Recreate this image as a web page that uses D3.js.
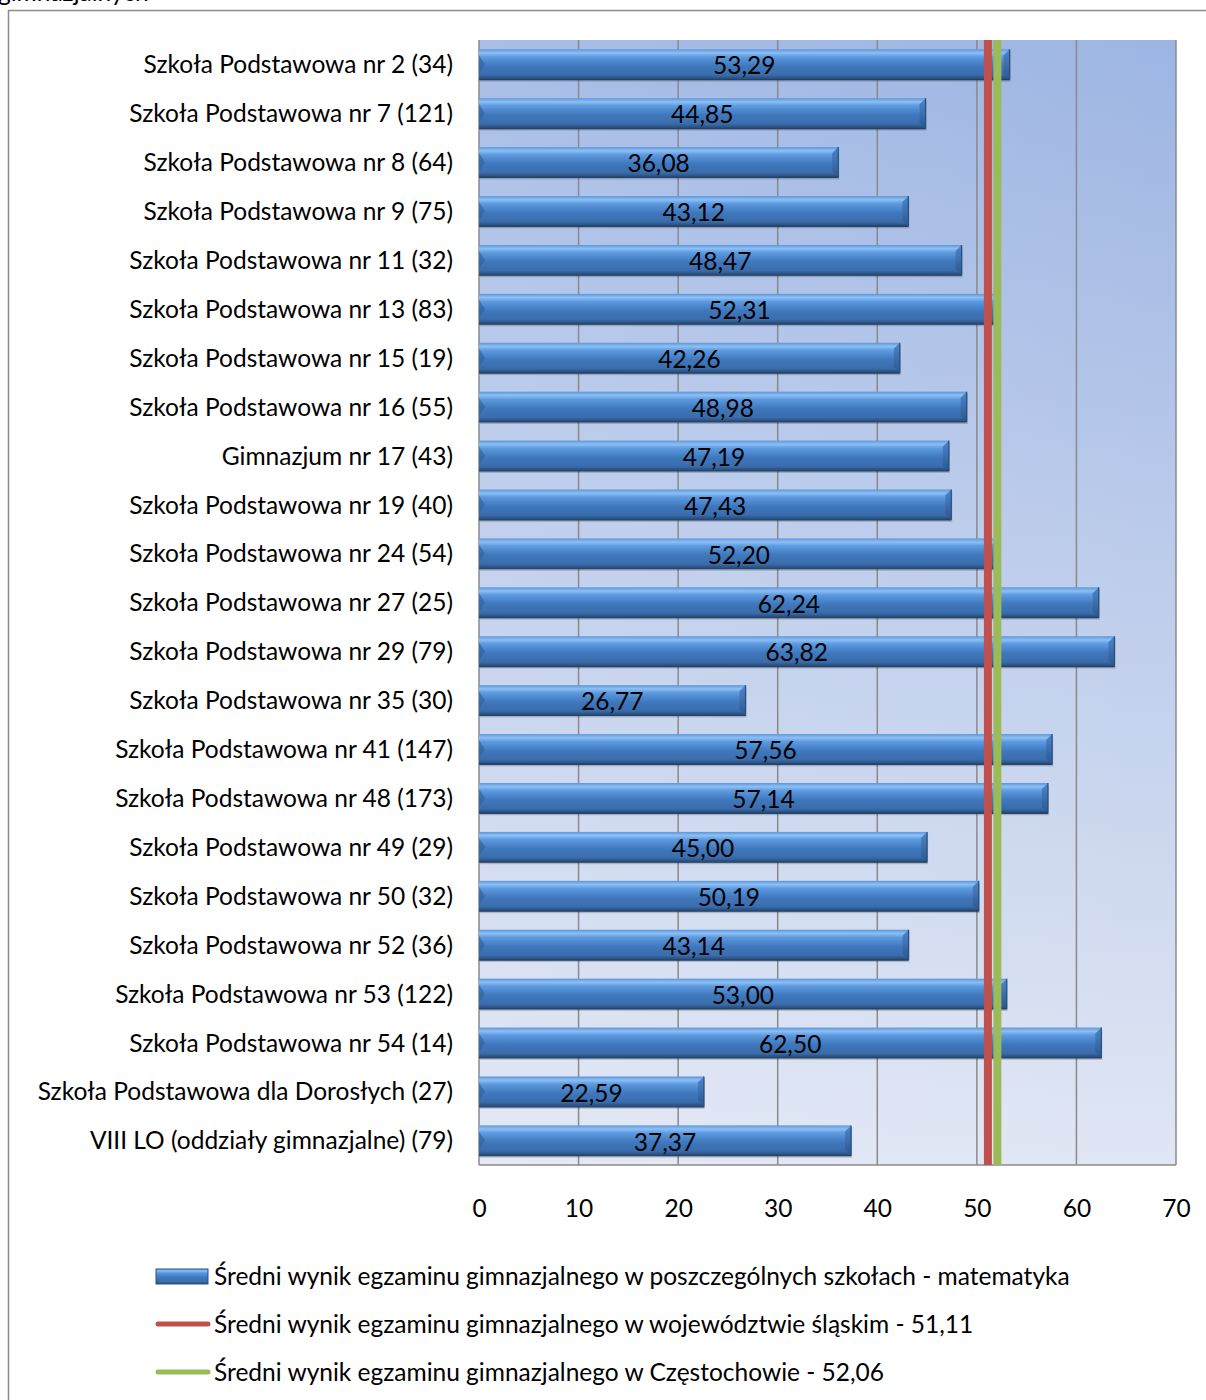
<!DOCTYPE html>
<html><head><meta charset="utf-8">
<script src="https://cdn.jsdelivr.net/npm/d3@7"></script>
<style>body{margin:0;background:#fff;}svg{display:block;}</style>
</head><body>
<script>
const categories = [
 "Szkoła Podstawowa nr 2 (34)","Szkoła Podstawowa nr 7 (121)","Szkoła Podstawowa nr 8 (64)",
 "Szkoła Podstawowa nr 9 (75)","Szkoła Podstawowa nr 11 (32)","Szkoła Podstawowa nr 13 (83)",
 "Szkoła Podstawowa nr 15 (19)","Szkoła Podstawowa nr 16 (55)","Gimnazjum nr 17 (43)",
 "Szkoła Podstawowa nr 19 (40)","Szkoła Podstawowa nr 24 (54)","Szkoła Podstawowa nr 27 (25)",
 "Szkoła Podstawowa nr 29 (79)","Szkoła Podstawowa nr 35 (30)","Szkoła Podstawowa nr 41 (147)",
 "Szkoła Podstawowa nr 48 (173)","Szkoła Podstawowa nr 49 (29)","Szkoła Podstawowa nr 50 (32)",
 "Szkoła Podstawowa nr 52 (36)","Szkoła Podstawowa nr 53 (122)","Szkoła Podstawowa nr 54 (14)",
 "Szkoła Podstawowa dla Dorosłych (27)","VIII LO (oddziały gimnazjalne) (79)"];
const values = [53.29,44.85,36.08,43.12,48.47,52.31,42.26,48.98,47.19,47.43,52.20,62.24,63.82,26.77,57.56,57.14,45.00,50.19,43.14,53.00,62.50,22.59,37.37];
const voivodeshipAvg = 51.11;
const cityAvg = 52.06;
const xTicks = [0,10,20,30,40,50,60,70];
const legendLabels = [
 "Średni wynik egzaminu gimnazjalnego w poszczególnych szkołach - matematyka",
 "Średni wynik egzaminu gimnazjalnego w województwie śląskim - 51,11",
 "Średni wynik egzaminu gimnazjalnego w Częstochowie - 52,06"];
const topText = "gimnazjalnych";

const W=1206,H=1400;
const FONT="Lato, 'Open Sans', sans-serif";
const FS=24.5;
const svg=d3.select("body").append("svg").attr("width",W).attr("height",H).style("font-family",FONT);
const defs=svg.append("defs");

const bg=defs.append("linearGradient").attr("id","bg").attr("x1",0).attr("y1",0).attr("x2",0).attr("y2",1);
bg.append("stop").attr("offset","0%").attr("stop-color","#9db5e3");
bg.append("stop").attr("offset","100%").attr("stop-color","#e0e6f4");
const bg2=defs.append("linearGradient").attr("id","bgh").attr("x1",0).attr("y1",0).attr("x2",1).attr("y2",0);
bg2.append("stop").attr("offset","0%").attr("stop-color","#ffffff").attr("stop-opacity",0.12);
bg2.append("stop").attr("offset","100%").attr("stop-color","#ffffff").attr("stop-opacity",0);

const bar=defs.append("linearGradient").attr("id","bar").attr("x1",0).attr("y1",0).attr("x2",0).attr("y2",1);
[["0%","#5d95dc"],["12%","#8cc0f4"],["25%","#5d9ae0"],["55%","#3f78bd"],["85%","#3a6cab"],["100%","#24466f"]]
 .forEach(([o,c])=>bar.append("stop").attr("offset",o).attr("stop-color",c));
const cap=defs.append("linearGradient").attr("id","cap").attr("x1",0).attr("y1",0).attr("x2",0).attr("y2",1);
[["0%","#4d86cc"],["100%","#2b578d"]].forEach(([o,c])=>cap.append("stop").attr("offset",o).attr("stop-color",c));

// top clipped text (only descenders visible in the reference)
svg.append("text").attr("x",-2).attr("y",1).attr("font-size",FS).attr("fill","#000").text(topText);

// frame
svg.append("rect").attr("x",8.5).attr("y",10.5).attr("width",W+10).attr("height",H+10)
 .attr("fill","none").attr("stroke","#8c8c8c").attr("stroke-width",1.5);

const m={l:479,r:1176,t:40,b:1165};
const x=d3.scaleLinear().domain([0,70]).range([m.l,m.r]);
const y=d3.scaleBand().domain(categories).range([m.t,m.b]).paddingInner(0.38).paddingOuter(0.19);

svg.append("rect").attr("x",m.l).attr("y",m.t).attr("width",m.r-m.l).attr("height",m.b-m.t).attr("fill","url(#bg)");
svg.append("rect").attr("x",m.l).attr("y",m.t).attr("width",m.r-m.l).attr("height",m.b-m.t).attr("fill","url(#bgh)");

// gridlines
svg.append("g").selectAll("line").data(xTicks).join("line")
 .attr("x1",d=>x(d)).attr("x2",d=>x(d)).attr("y1",m.t).attr("y2",m.b)
 .attr("stroke","#8a8a8a").attr("stroke-width",1.5);
svg.append("line").attr("x1",m.l).attr("x2",m.r).attr("y1",m.b).attr("y2",m.b).attr("stroke","#8a8a8a").attr("stroke-width",1.5);

// x axis labels
const xa=svg.append("g").attr("transform",`translate(0,${m.b})`)
 .call(d3.axisBottom(x).tickValues(xTicks).tickSize(0).tickPadding(35));
xa.select(".domain").remove();
xa.selectAll("text").attr("font-size",FS).attr("font-family",FONT).attr("fill","#000");

// y axis labels
const ya=svg.append("g").attr("transform",`translate(${m.l},1)`)
 .call(d3.axisLeft(y).tickSize(0).tickPadding(26));
ya.select(".domain").remove();
ya.selectAll("text").attr("font-size",FS).attr("font-family",FONT).attr("fill","#000");

// bars
const bh=y.bandwidth();
const bars=svg.append("g").selectAll("g").data(values).join("g")
 .attr("transform",(d,i)=>`translate(0,${y(categories[i])})`);
bars.append("rect").attr("x",x(0)+1).attr("y",2).attr("width",d=>x(d)-x(0)).attr("height",bh)
 .attr("fill","#000").attr("opacity",0.18);
bars.append("rect").attr("x",x(0)).attr("y",0).attr("width",d=>x(d)-x(0)).attr("height",bh).attr("fill","url(#bar)");
bars.append("path").attr("d",d=>{const xe=x(d),c=6;return `M${xe-c},${c}L${xe},0L${xe},${bh}L${xe-c},${bh-c}Z`;})
 .attr("fill","url(#cap)");
bars.append("path").attr("d",d=>{const xs=x(0),c=6;return `M${xs},${c}L${xs+c},${bh/2}L${xs},${bh-c}Z`;})
 .attr("fill","#2f5f99").attr("opacity",0.6);
bars.append("line").attr("x1",d=>x(d)).attr("x2",d=>x(d)).attr("y1",0).attr("y2",bh).attr("stroke","#25507f").attr("stroke-width",1.2);
bars.append("line").attr("x1",x(0)).attr("x2",d=>x(d)).attr("y1",bh).attr("y2",bh).attr("stroke","#22426a").attr("stroke-width",1.2);

// reference lines
svg.append("line").attr("x1",x(voivodeshipAvg)).attr("x2",x(voivodeshipAvg)).attr("y1",m.t).attr("y2",m.b)
 .attr("stroke","#c0504d").attr("stroke-width",8);
svg.append("line").attr("x1",x(cityAvg)).attr("x2",x(cityAvg)).attr("y1",m.t).attr("y2",m.b)
 .attr("stroke","#9bbb59").attr("stroke-width",8);

// value labels
svg.append("g").selectAll("text").data(values).join("text")
 .attr("x",d=>x(d/2)).attr("y",(d,i)=>y(categories[i])+bh/2+10)
 .attr("text-anchor","middle").attr("font-size",FS).attr("fill","#000")
 .text(d=>d.toFixed(2).replace(".",","));

// legend
const lg=svg.append("g");
const ly=[1276,1324,1372];
lg.append("rect").attr("x",156).attr("y",ly[0]-7).attr("width",52).attr("height",15).attr("fill","url(#bar)").attr("stroke","#2a5286").attr("stroke-width",1);
lg.append("line").attr("x1",158).attr("x2",208).attr("y1",ly[1]).attr("y2",ly[1]).attr("stroke","#c0504d").attr("stroke-width",5).attr("stroke-linecap","round");
lg.append("line").attr("x1",158).attr("x2",208).attr("y1",ly[2]).attr("y2",ly[2]).attr("stroke","#9bbb59").attr("stroke-width",5).attr("stroke-linecap","round");
lg.selectAll("text").data(legendLabels).join("text")
 .attr("x",214).attr("y",(d,i)=>ly[i]+9).attr("font-size",FS).attr("fill","#000").text(d=>d);
</script>
</body></html>
